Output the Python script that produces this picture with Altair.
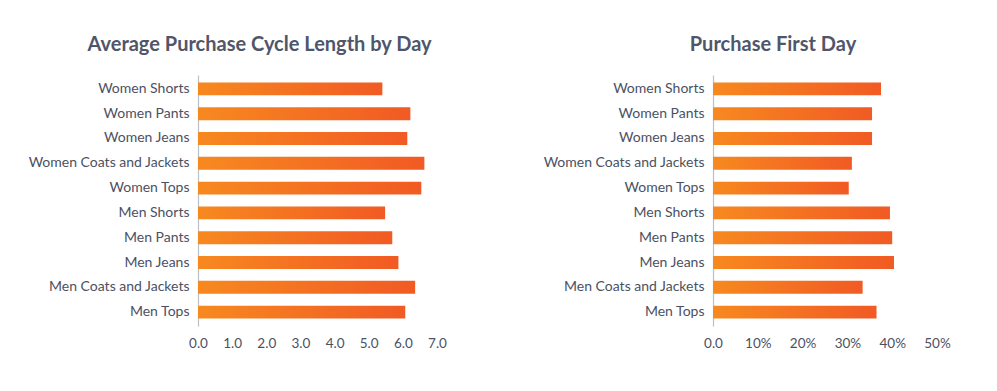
import altair as alt
import pandas as pd

categories = ["Women Shorts", "Women Pants", "Women Jeans", "Women Coats and Jackets", "Women Tops",
              "Men Shorts", "Men Pants", "Men Jeans", "Men Coats and Jackets", "Men Tops"]
cycle_days = [5.40, 6.22, 6.13, 6.63, 6.54, 5.48, 5.69, 5.87, 6.36, 6.07]
first_day = [0.375, 0.355, 0.355, 0.310, 0.303, 0.395, 0.400, 0.404, 0.334, 0.365]

df = pd.DataFrame({"cat": categories, "days": cycle_days, "first": first_day})

FONT = "Lato"
LABEL_COLOR = "#4b5162"
TITLE_COLOR = "#50566a"

grad = alt.Gradient(
    gradient="linear",
    stops=[alt.GradientStop(color="#f7891f", offset=0), alt.GradientStop(color="#f15a24", offset=1)],
    x1=0, x2=1, y1=0, y2=0,
)

y_enc = alt.Y("cat:N", sort=None, title=None,
              scale=alt.Scale(paddingInner=0.48, paddingOuter=0.3),
              axis=alt.Axis(ticks=False, domainColor="#b9c0c8", domainWidth=1.2,
                            labelPadding=9, labelFontSize=14, labelColor=LABEL_COLOR,
                            labelFont=FONT, minExtent=185, maxExtent=185, labelLimit=300))

left = alt.Chart(df).mark_bar(color=grad).encode(
    x=alt.X("days:Q", title=None, scale=alt.Scale(domain=[0, 7], nice=False),
            axis=alt.Axis(values=[0, 1, 2, 3, 4, 5, 6, 7], format=".1f", grid=False, domain=False,
                          ticks=False, labelPadding=10, labelFontSize=13.5, labelColor=LABEL_COLOR,
                          labelFont=FONT, labelFlush=False)),
    y=y_enc,
).properties(
    width=239, height=251,
    title=alt.TitleParams("Average Purchase Cycle Length by Day", font=FONT, fontSize=20,
                          fontWeight="bold", color=TITLE_COLOR, anchor="middle", dx=-58, offset=20),
)

right = alt.Chart(df).mark_bar(color=grad).encode(
    x=alt.X("first:Q", title=None, scale=alt.Scale(domain=[0, 0.5], nice=False),
            axis=alt.Axis(values=[0, 0.1, 0.2, 0.3, 0.4, 0.5],
                          labelExpr="datum.value == 0 ? '0.0' : format(datum.value, '.0%')",
                          grid=False, domain=False, ticks=False, labelPadding=10, labelFontSize=13.5,
                          labelColor=LABEL_COLOR, labelFont=FONT, labelFlush=False)),
    y=y_enc,
).properties(
    width=224, height=251,
    title=alt.TitleParams("Purchase First Day", font=FONT, fontSize=20,
                          fontWeight="bold", color=TITLE_COLOR, anchor="middle", dx=-52, offset=20),
)

chart = alt.hconcat(left, right, spacing=81).properties(
    padding={"left": 5, "top": 27, "right": 5, "bottom": 5}
).configure(background="white").configure_view(strokeWidth=0, stroke=None)

chart.save("out.html", embed_options={"renderer": "svg", "actions": False})
